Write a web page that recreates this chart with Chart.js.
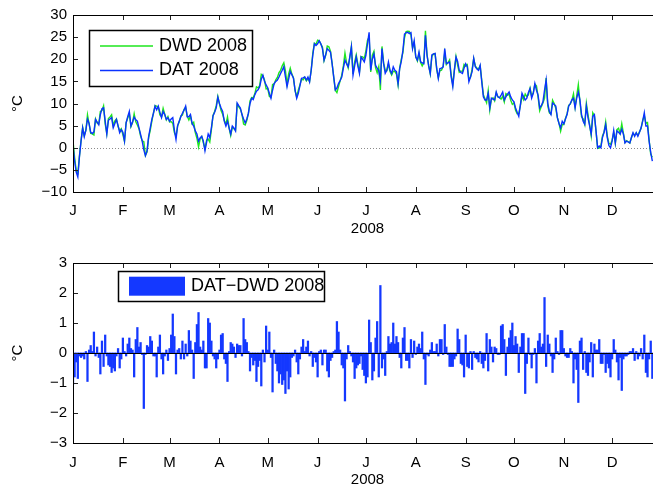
<!DOCTYPE html>
<html>
<head>
<meta charset="utf-8">
<script src="https://cdn.jsdelivr.net/npm/chart.js@4.4.0/dist/chart.umd.min.js"></script>
<style>
  html, body { margin: 0; padding: 0; background: #fff; overflow: hidden; width: 653px; height: 490px; }
  canvas { position: absolute; left: 0; }
  #tempChart { top: 0; }
  #diffChart { top: 245px; }
</style>
</head>
<body>
<canvas id="tempChart" width="666" height="245"></canvas>
<canvas id="diffChart" width="666" height="245"></canvas>
<script>
// day-of-year where each month starts (0 = 1 Jan 2008)
const monthStarts = [0, 31, 60, 91, 121, 152, 182, 213, 244, 274, 305, 335];
const monthLabels = ['J', 'F', 'M', 'A', 'M', 'J', 'J', 'A', 'S', 'O', 'N', 'D'];
const tempTicks = [-10, -5, 0, 5, 10, 15, 20, 25, 30];
const diffTicks = [-3, -2, -1, 0, 1, 2, 3];

// daily mean temperature, DAT station (degC), days 0..360
const datTemp = [
  0.5, -3, -5.5, -6.6, -2, 1.5, 4.5, 2.5, 4, 6.5,
  5.5, 3.5, 3.2, 3.6, 6.4, 5.8, 5.2, 7.5, 8.8, 9,
  6, 3.1, 6.2, 6.5, 6.8, 4.5, 5.5, 6.4, 5, 3.4,
  4.1, 3.5, 1.5, 5.6, 7, 8.2, 4.9, 5.8, 6.9, 6.3,
  6, 4.5, 3, 1.5, -0.5, -1.8, -0.7, 2.5, 4.5, 6.4,
  7.8, 9.4, 8.6, 9.4, 8, 6.8, 8.2, 7.5, 6.4, 6.8,
  6, 6.5, 6.8, 4, 1.9, 5, 6, 7, 7.8, 8.5,
  9.4, 7, 7, 7.5, 5.5, 4.9, 3.8, 3.1, 1.5, 2.2,
  2.6, 1.5, -0.7, 1.2, 3.1, 2.3, 4.5, 7.2, 8, 9,
  11.4, 10, 9, 8.2, 6, 4.9, 6, 4.5, 3.1, 4.9,
  4.5, 3.8, 10.1, 9.5, 9, 7.5, 6.5, 5.6, 6.5, 7.8,
  10, 11.2, 10.9, 12, 12.8, 13.1, 13.8, 15.5, 16.4,
  15, 14.2, 13.5, 12.3, 11.2, 13, 14.5, 15, 15.3, 16,
  16.8, 17.5, 18.3, 16, 13.8, 15.5, 17.2, 16.5, 15.7, 13,
  11.2, 12.3, 14, 15.7, 15.8, 16, 15.3, 16, 14.9, 17.5,
  20.9, 23.5, 23.1, 23.5, 24.2, 23.5, 22.4, 19.8, 21, 22.4,
  22, 21.6, 19, 16, 13.1, 13.5, 14.5, 15.2, 16, 18,
  19.8, 19, 18.3, 20.5, 22.8, 16.4, 18.5, 20.5, 18.5, 16.8,
  20.5, 20, 19.4, 20.9, 23.5, 26.1, 17.5, 20, 21.2, 18.6,
  18, 17.5, 15.3, 22.4, 19, 16.8, 17.5, 19.4, 17.5, 16.8,
  18.3, 17.5, 17.2, 14.5, 17.9, 19.5, 22, 25.7, 26, 26.1,
  25.8, 26, 22.4, 24.2, 20.5, 19.8, 21.6, 19.4, 19.2, 19,
  25.4, 20.9, 18.5, 16.8, 21, 21.2, 21.3, 18, 15.7, 17.9,
  18, 18.3, 22.4, 19, 19.2, 19.4, 16, 13.8, 17.5,
  20.5, 19.5, 17.5, 17, 16.8, 18, 19, 18.3, 14.9, 16,
  17.2, 20.2, 18.3, 17.8, 17.5, 18.6, 14.9, 11.5, 10.8, 10.8,
  12.3, 9, 11.2, 11, 10.8, 12.6, 11.5, 11.3, 11.9, 12.6,
  10.8, 11.5, 12.1, 12.6, 11.5, 10.8, 10.4, 9, 8, 7.1,
  9.7, 12.3, 11.5, 10.8, 11.2, 12.5, 13.4, 11.2, 12.3, 14.5,
  13, 11.9, 9, 9.5, 10.4, 13, 15.3, 10.1, 8.2,
  7.5, 10.1, 9.8, 9.4, 6.8, 5.5, 4.5, 6, 5.4, 6.5,
  7.5, 9.4, 10, 10.8, 11.2, 9, 11.2, 12.6, 10.8, 7.5,
  6, 5.3, 9.4, 6.8, 5, 3.1, 7.1, 7.5, 3.8, 0,
  0.4, 0, 2.3, 3.5, 5.2, 2.3, 0.5, 0, 1.5, 3.9,
  1.1, 3.8, 3.5, 3.1, 4.2, 3.1, 1.1, 1.5, 1.3, 1.1,
  2.3, 3.4, 2.6, 3.4, 2.6, 3.5, 4.5, 6, 7.9, 4.9,
  4.9, 1.5, -1.1, -3
];

// daily difference DAT - DWD (degC), days 0..360
const diffTemp = [
  -1.05, -0.8, -0.3, -0.85, -0.1, -0.15, -0.1, -0.2, 0.05, -0.95,
  0.1, 0.25, 0.05, 0.7, -0.1, 0.2, -0.15, -0.7, 0.4, -0.45,
  0.6, -0.1, -0.4, -0.45, -0.65, -0.5, -0.6, -0.1, 0.15, -0.5,
  -0.2, 0.5, 0.05, -0.1, 0.3, 0.5, 0.15, 0.1, -0.8, 0.45,
  0.85, 0.2, 0.35, -0.05, -1.85, -0.05, 0.25, 0.2, 0.55, 0.4,
  -0.1, -0.1, -0.8, 0.2, 0.6, -0.2, -0.7, -0.1, 0.1, -0.25,
  0.15, 0.6, 1.3, 0.55, -0.7, 0.1, 0.15, -0.2, 0.4, -0.2,
  0.3, -0.1, 0.75, 0.4, 0.1, -0.85, 0.35, 0.95, 1.35, 0.2,
  0.1, 0.4, -0.5, -0.5, 1.15, 1.0, 0.4, -0.1, -0.2, -0.5,
  -0.2, 0.1, 0.6, 0.65, -0.2, -0.35, -0.95, 0.05, 0.35, 0.3,
  0.2, -0.15, 0.3, 0.25, 0.25, -0.1, 1.15, 0.45, 0.35, 0.05,
  -0.6, -0.15, -0.4, -0.25, -0.95, -0.45, -0.25, -1.1, 0.1,
  -0.3, 0.9, 0.1, 0.7, -0.15, -1.3, 0.1, -0.35, -0.6, -1.0,
  -0.7, -1.05, -0.9, -1.35, -0.6, -1.2, -0.8, -0.15, -0.1, 0.1,
  -0.3, -0.7, -0.2, 0.2, 0.45, 0.05, 0.2, 0.4, -0.1, 0.05,
  -0.45, -0.15, -0.3, -0.8, 0.05, 0.1, -0.4, 0.1, 0.1, -0.6,
  -0.8, -0.25, -0.15, 0.05, 0.1, 1.05, 0.7, 0.1, -0.4, -0.5,
  -1.6, -0.2, 0.25, 0.05, -0.1, -0.3, -0.85, -0.5, -0.4, -0.35,
  -0.1, -0.55, -0.75, -1.0, -0.8, 1.1, 0.35, -0.9, -0.6, 0.5,
  1.05, -0.8, 2.25, -0.5, -0.2, -0.75, 0.05, 0.55, 0.3, 0.35,
  1.0, 0.3, 0.55, 0.35, -0.15, -0.5, 0.5, 0.85, -0.25, -0.25,
  -0.5, 0.45, -0.15, 0.4, -0.05, 0.2, 0.3, 0.15, 0.7, -0.2,
  -1.05, -0.05, -0.1, 0.1, 0.35, 0.05, 0.05, 0.3, -0.1, 0.45,
  0.45, -0.05, 0.95, 0.2, -0.05, -0.45, -0.45, -0.45, -0.2,
  -0.1, 0.8, 0.45, -0.35, -0.4, -0.8, 0.6, -0.45, -0.5, 0.05,
  -0.55, 0.05, -0.15, -0.2, -0.3, 0.05, -0.35, -0.5, -0.25, 0.65,
  -0.6, 0.45, 0.2, -0.3, 0.2, 0.15, -0.05, -0.05, 0.9, 0.95,
  0.45, -0.75, 0.2, 0.5, 0.75, 1.0, 0.25, 0.55, 0.3, -0.65,
  0.2, 0.65, 0.65, -1.35, -0.35, 0.5, -0.05, -0.5, -0.05, 0.15,
  -1.0, 0.4, 0.65, 0.2, 0.3, 1.85, -0.45, 0.6, 0.3,
  -0.1, -0.65, -0.2, 0.5, 0.05, -0.05, 0.75, 0.75, 0.15, -0.1,
  -0.15, -0.15, 0.15, 0.05, -1.0, -0.2, -0.55, -1.65, 0.4, 0.5,
  -0.55, 0.05, -0.65, -0.75, -0.3, 0.35, -0.8, 0.3, 0.1, 0.1,
  0.45, -0.35, -0.35, -0.05, -0.65, -0.35, -0.5, -0.8, -0.2, 0.45,
  0.1, -0.3, -0.9, -0.15, -1.25, -0.2, -0.1, -0.1, -0.05, 0.05,
  0.05, 0.15, -0.25, 0.05, -0.2, -0.1, 0.15, -0.2, 0.6, -0.65,
  -0.8, -0.2, 0.4, -0.85
];

// DWD series follows from DAT and the plotted difference
const dwdTemp = datTemp.map((v, i) => +(v - diffTemp[i]).toFixed(2));

const FONT = '"Liberation Sans", Arial, Helvetica, sans-serif';
const tickFont = { family: FONT, size: 15 };
const fmtTick = v => (v < 0 ? '\u2212' + Math.abs(v) : String(v));
const asPoints = arr => arr.map((v, i) => ({ x: i, y: v }));

// matlab-ish box: frame all round, ticks pointing inward, optional zero line
const axesFrame = {
  id: 'axesFrame',
  beforeDatasetsDraw(chart, args, o) {
    if (o.zero !== 'dotted') return;
    const { ctx, chartArea: a, scales: { y } } = chart;
    const py = Math.round(y.getPixelForValue(0)) + 0.5;
    ctx.save();
    ctx.strokeStyle = '#8a8a8a';
    ctx.lineWidth = 1;
    ctx.setLineDash([1, 2]);
    ctx.beginPath();
    ctx.moveTo(a.left, py);
    ctx.lineTo(a.right, py);
    ctx.stroke();
    ctx.restore();
  },
  afterDatasetsDraw(chart, args, o) {
    const { ctx, chartArea: a, scales: { x, y } } = chart;
    ctx.save();
    if (o.zero === 'solid') {
      const py = Math.round(y.getPixelForValue(0)) + 0.5;
      ctx.strokeStyle = '#000';
      ctx.lineWidth = 1.2;
      ctx.beginPath();
      ctx.moveTo(a.left, py);
      ctx.lineTo(a.right, py);
      ctx.stroke();
    }
    const len = 5;
    ctx.strokeStyle = '#222';
    ctx.lineWidth = 1;
    ctx.beginPath();
    x.ticks.forEach(t => {
      const px = Math.round(x.getPixelForValue(t.value)) + 0.5;
      ctx.moveTo(px, a.bottom); ctx.lineTo(px, a.bottom - len);
      ctx.moveTo(px, a.top); ctx.lineTo(px, a.top + len);
    });
    y.ticks.forEach(t => {
      const py = Math.round(y.getPixelForValue(t.value)) + 0.5;
      ctx.moveTo(a.left, py); ctx.lineTo(a.left + len, py);
      ctx.moveTo(a.right, py); ctx.lineTo(a.right - len, py);
    });
    ctx.stroke();
    ctx.strokeStyle = '#000';
    ctx.strokeRect(Math.round(a.left) + 0.5, Math.round(a.top) + 0.5,
                   Math.round(a.right - a.left), Math.round(a.bottom - a.top));
    ctx.restore();
  }
};

// boxed legend placed inside the axes
const boxLegend = {
  id: 'boxLegend',
  afterDraw(chart, args, o) {
    const ctx = chart.ctx;
    ctx.save();
    ctx.fillStyle = '#fff';
    ctx.fillRect(o.x, o.y, o.w, o.h);
    ctx.strokeStyle = '#000';
    ctx.lineWidth = 1.5;
    ctx.strokeRect(o.x, o.y, o.w, o.h);
    ctx.font = '18px ' + FONT;
    ctx.textBaseline = 'middle';
    chart.data.datasets.forEach((ds, i) => {
      const cy = o.y + o.rowTop + i * o.rowGap;
      if (o.patchH) {
        ctx.fillStyle = ds.backgroundColor;
        ctx.fillRect(o.sampleX, cy - o.patchH / 2, o.sampleW, o.patchH);
      } else {
        ctx.strokeStyle = ds.borderColor;
        ctx.lineWidth = 1.3;
        ctx.beginPath();
        ctx.moveTo(o.sampleX, cy);
        ctx.lineTo(o.sampleX + o.sampleW, cy);
        ctx.stroke();
      }
      ctx.fillStyle = '#000';
      ctx.fillText(ds.label, o.textX, cy);
    });
    ctx.restore();
  }
};

function monthAxis(height, pad, titlePad) {
  return {
    type: 'linear', min: 0, max: 366,
    offset: false,
    afterBuildTicks: s => { s.ticks = monthStarts.map(v => ({ value: v })); },
    afterFit: s => { s.height = height; },
    grid: { display: false, drawTicks: false, offset: false },
    border: { display: false },
    ticks: { font: tickFont, color: '#000', padding: pad, maxRotation: 0, autoSkip: false,
             callback: v => monthLabels[monthStarts.indexOf(v)] },
    title: { display: true, text: '2008', font: tickFont, color: '#000',
             padding: { top: 0, bottom: titlePad } }
  };
}

function valueAxis(min, max, ticks) {
  return {
    min, max,
    afterBuildTicks: s => { s.ticks = ticks.map(v => ({ value: v })); },
    afterFit: s => { s.width = 73; },
    grid: { display: false, drawTicks: false },
    border: { display: false },
    ticks: { font: tickFont, color: '#000', padding: 6, callback: fmtTick },
    title: { display: true, text: '°C', font: tickFont, color: '#000',
             padding: { top: 9, bottom: 0 } }
  };
}

// top: the two temperature series
new Chart(document.getElementById('tempChart'), {
  type: 'line',
  data: {
    datasets: [
      { label: 'DWD 2008', data: asPoints(dwdTemp), borderColor: '#1ee61e',
        borderWidth: 1.4, pointRadius: 0, tension: 0, order: 1 },
      { label: 'DAT 2008', data: asPoints(datTemp), borderColor: '#0a32ff',
        borderWidth: 1.4, pointRadius: 0, tension: 0, order: 0 }
    ]
  },
  options: {
    responsive: false,
    devicePixelRatio: 1,
    animation: false,
    layout: { padding: { top: 13, right: 4, left: 0, bottom: 0 } },
    scales: { x: monthAxis(53, 10, 7), y: valueAxis(-10, 30, tempTicks) },
    plugins: {
      legend: { display: false },
      tooltip: { enabled: false },
      axesFrame: { zero: 'dotted' },
      boxLegend: { x: 89.5, y: 30.5, w: 163, h: 56, rowTop: 15.5, rowGap: 24.5,
                   sampleX: 100, sampleW: 53, textX: 159 }
    }
  },
  plugins: [axesFrame, boxLegend]
});

// bottom: daily difference as bars
new Chart(document.getElementById('diffChart'), {
  type: 'bar',
  data: {
    datasets: [
      { label: 'DAT\u2212DWD 2008', data: asPoints(diffTemp), backgroundColor: '#1438ff',
        borderWidth: 0, barPercentage: 1, categoryPercentage: 1 }
    ]
  },
  options: {
    responsive: false,
    devicePixelRatio: 1,
    animation: false,
    layout: { padding: { top: 18, right: 4, left: 0, bottom: 0 } },
    scales: { x: monthAxis(47, 11, 1), y: valueAxis(-3, 3, diffTicks) },
    plugins: {
      legend: { display: false },
      tooltip: { enabled: false },
      axesFrame: { zero: 'solid' },
      boxLegend: { x: 118.5, y: 26.5, w: 206, h: 30, rowTop: 14.7, rowGap: 0,
                   sampleX: 129, sampleW: 56, patchH: 19, textX: 191 }
    }
  },
  plugins: [axesFrame, boxLegend]
});
</script>
</body>
</html>
